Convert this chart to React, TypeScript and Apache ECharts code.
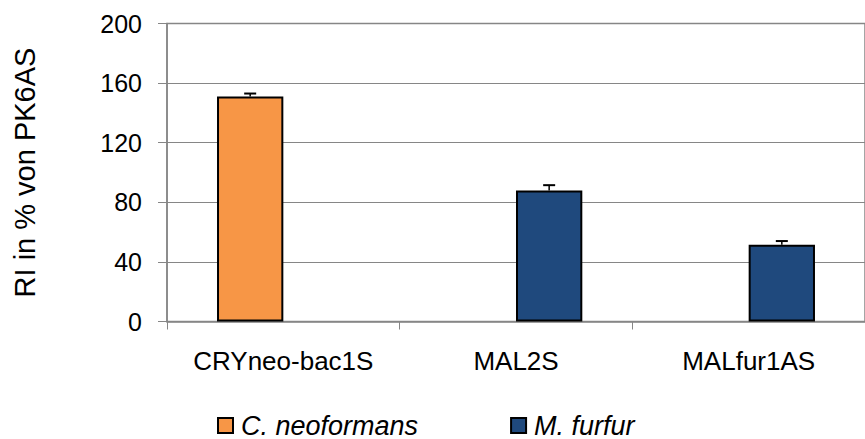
import React, { useEffect, useRef } from "react";
import * as echarts from "echarts";

// Primer names on the x axis
const categories = ["CRYneo-bac1S", "MAL2S", "MALfur1AS"];

// Relative intensity (% of PK6AS) per organism, with error (upper whisker)
const neoformansValues = [151, null, null];
const neoformansErrors = [2, null, null];
const furfurValues = [null, 88, 51.5];
const furfurErrors = [null, 3.5, 2.5];

// y axis scale
const yMin = 0;
const yMax = 200;
const yInterval = 40;

const seriesNames = ["C. neoformans", "M. furfur"];
const FONT = "'Liberation Sans', Arial, Helvetica, sans-serif";
const BAR_FRACTION = 0.285;

function errorData(values: (number | null)[], errors: (number | null)[], side: number) {
  const out: number[][] = [];
  values.forEach((v, i) => {
    const e = errors[i];
    if (v != null && e != null) out.push([i, v, e, side]);
  });
  return out;
}

export default function App() {
  const ref = useRef<HTMLDivElement>(null);

  useEffect(() => {
    if (!ref.current) return;
    const chart = echarts.init(ref.current, undefined, { renderer: "svg" });

    const renderError = (_params: any, api: any) => {
      const cat = api.value(0);
      const val = api.value(1);
      const err = api.value(2);
      const side = api.value(3);
      const band = api.size([1, 0])[0];
      const x = api.coord([cat, val])[0] + (side * band * BAR_FRACTION) / 2;
      const yBase = api.coord([cat, val])[1];
      const yTop = api.coord([cat, val + err])[1];
      return {
        type: "group",
        children: [
          {
            type: "line",
            shape: { x1: x, y1: yBase, x2: x, y2: yTop },
            style: { stroke: "#000", lineWidth: 1.5 },
          },
          {
            type: "line",
            shape: { x1: x - 6, y1: yTop, x2: x + 6, y2: yTop },
            style: { stroke: "#000", lineWidth: 2 },
          },
        ],
      };
    };

    chart.setOption({
      animation: false,
      backgroundColor: "#fff",
      textStyle: { fontFamily: FONT },
      grid: {
        left: 167,
        top: 23.5,
        right: -11,
        height: 298,
        show: true,
        borderColor: "#888",
        borderWidth: 1.5,
        containLabel: false,
      },
      legend: {
        data: seriesNames,
        left: 212,
        top: 407,
        itemWidth: 15,
        itemHeight: 15,
        itemGap: 92,
        icon: "rect",
        textStyle: {
          fontFamily: FONT,
          fontStyle: "italic",
          fontSize: 27,
          color: "#000",
          padding: [0, 0, 0, 3],
        },
      },
      xAxis: {
        type: "category",
        data: categories,
        axisLine: { show: true, lineStyle: { color: "#868686", width: 1.5 } },
        axisTick: { show: true, length: 8, lineStyle: { color: "#868686" } },
        axisLabel: {
          color: "#000",
          fontSize: 26,
          fontFamily: FONT,
          margin: 26,
          interval: 0,
        },
        splitLine: { show: false },
      },
      yAxis: {
        type: "value",
        min: yMin,
        max: yMax,
        interval: yInterval,
        name: "RI in % von PK6AS",
        nameLocation: "middle",
        nameRotate: 90,
        nameGap: 128,
        nameTextStyle: { color: "#000", fontSize: 29, fontFamily: FONT },
        axisLine: { show: true, lineStyle: { color: "#868686", width: 1.5 } },
        axisTick: { show: true, length: 9, lineStyle: { color: "#868686" } },
        axisLabel: {
          color: "#000",
          fontSize: 25,
          fontFamily: FONT,
          margin: 25,
        },
        splitLine: { show: true, lineStyle: { color: "#868686", width: 1 } },
      },
      series: [
        {
          name: seriesNames[0],
          type: "bar",
          data: neoformansValues,
          barWidth: `${BAR_FRACTION * 100}%`,
          barGap: "0%",
          itemStyle: { color: "#F79646", borderColor: "#000", borderWidth: 2 },
        },
        {
          name: seriesNames[1],
          type: "bar",
          data: furfurValues,
          barWidth: `${BAR_FRACTION * 100}%`,
          barGap: "0%",
          itemStyle: { color: "#1F497D", borderColor: "#000", borderWidth: 2 },
        },
        {
          name: "errors",
          type: "custom",
          renderItem: renderError,
          encode: { x: 0, y: 1 },
          data: [
            ...errorData(neoformansValues, neoformansErrors, -1),
            ...errorData(furfurValues, furfurErrors, 1),
          ],
          z: 5,
        },
      ],
    });

    return () => chart.dispose();
  }, []);

  return (
    <div
      ref={ref}
      style={{ position: "absolute", left: 0, top: 0, width: 865, height: 439 }}
    />
  );
}
